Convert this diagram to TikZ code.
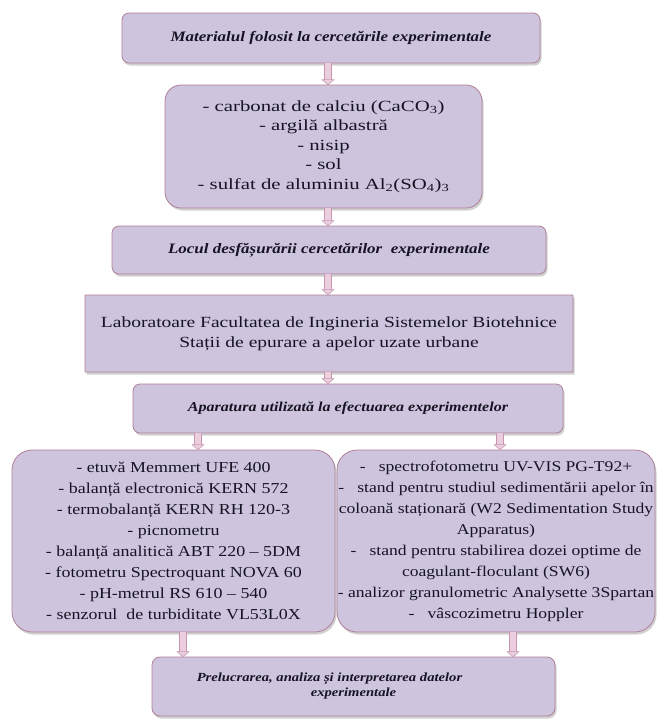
\documentclass[tikz,border=0pt]{standalone}
\usepackage{fontspec}
\setmainfont{Liberation Serif}[FakeStretch=1.18]
\newfontfamily\widerA{Liberation Serif}[FakeStretch=1.34]
\newfontfamily\widerB{Liberation Serif}[FakeStretch=1.26]
\usetikzlibrary{shadows}
\definecolor{boxfill}{RGB}{206,196,221}
\definecolor{boxedge}{RGB}{176,128,150}
\definecolor{arfill}{RGB}{236,206,222}
\definecolor{aredge}{RGB}{196,150,176}
\definecolor{txt}{RGB}{22,20,36}
\tikzset{
  box/.style={draw=boxedge, line width=0.8pt, fill=boxfill, rounded corners=#1,
    inner sep=0pt, align=center, text=txt,
    drop shadow={shadow xshift=1.5pt, shadow yshift=-2.5pt, opacity=0.3, fill=black!60},
    font=\fontsize{15.2}{20}\selectfont},
  box/.default=7pt,
  titlebox/.style={box=#1, font=\fontsize{14.4}{15}\selectfont\bfseries\itshape},
  titlebox/.default=7pt,
  arshaft/.style={draw=aredge, line width=0.6pt, double=arfill, double distance=6pt},
  arhead/.style={draw=aredge, line width=0.6pt, fill=arfill, line join=round}
}
\newcommand\blockarrow[2]{%
  \draw[arshaft] (#1) -- ([yshift=4pt]#2);
  \filldraw[arhead] ([xshift=-6pt,yshift=5pt]#2) -- (#2) -- ([xshift=6pt,yshift=5pt]#2) -- cycle;
}
\begin{document}
\begin{tikzpicture}[x=1pt,y=-1pt]
\useasboundingbox (0,0) rectangle (657,720);
\fill[white] (0,0) rectangle (657,720);

\node[titlebox, minimum width=418pt, minimum height=50pt] (b1) at (331,38)
  {Materialul folosit la cercetările experimentale};
\node[box=16pt, minimum width=317pt, minimum height=123pt, font=\widerA\fontsize{15.5}{19.6}\selectfont] (b2) at (323.5,146.5)
  {- carbonat de calciu (CaCO\textsubscript{3})\\
   - argilă albastră\\
   - nisip\\
   - sol\\
   - sulfat de aluminiu Al\textsubscript{2}(SO\textsubscript{4})\textsubscript{3}};
\node[titlebox, minimum width=434pt, minimum height=48pt] (b3) at (329,250)
  {Locul desfășurării cercetărilor\ \ experimentale};
\node[box=0.5pt, minimum width=488pt, minimum height=77pt, font=\widerB\fontsize{15.5}{20}\selectfont] (b4) at (329,333.5)
  {Laboratoare Facultatea de Ingineria Sistemelor Biotehnice\\
   Stații de epurare a apelor uzate urbane};
\node[titlebox, minimum width=430pt, minimum height=49pt, font=\fontsize{13.6}{15}\selectfont\bfseries\itshape] (b5) at (348,408.5)
  {Aparatura utilizată la efectuarea experimentelor};
\node[box=20pt, minimum width=323pt, minimum height=182pt, font=\fontsize{15.2}{21}\selectfont] (b6) at (173.5,541)
  {- etuvă Memmert UFE 400\\
   - balanță electronică KERN 572\\
   - termobalanță KERN RH 120-3\\
   - picnometru\\
   - balanță analitică ABT 220 -- 5DM\\
   - fotometru Spectroquant NOVA 60\\
   - pH-metrul RS 610 -- 540\\
   - senzorul\ \ de turbiditate VL53L0X};
\node[box=20pt, minimum width=318pt, minimum height=182pt, font=\fontsize{14.9}{21}\selectfont] (b7) at (496,541)
  {-\ \ \ spectrofotometru UV-VIS PG-T92+\\
   -\ \ \ stand pentru studiul sedimentării apelor în\\
   coloană staționară (W2 Sedimentation Study\\
   Apparatus)\\
   -\ \ \ stand pentru stabilirea dozei optime de\\
   coagulant-floculant (SW6)\\
   - analizor granulometric Analysette 3Spartan\\
   -\ \ \ vâscozimetru Hoppler};
\node[titlebox=8pt, minimum width=403pt, minimum height=59pt, font=\fontsize{12.4}{15}\selectfont\bfseries\itshape] (b8) at (353.5,686.5)
  {\hspace*{-48pt}Prelucrarea, analiza și interpretarea datelor\\experimentale};

\coordinate (xc) at (328,0);
\coordinate (xl5) at (198,0);
\coordinate (xr5) at (500,0);
\coordinate (xl6) at (183,0);
\coordinate (xr6) at (513,0);

\coordinate (e1) at (b2.north -| xc);
\coordinate (e2) at (b3.north -| xc);
\coordinate (e3) at (b4.north -| xc);
\coordinate (e4) at (b5.north -| xc);
\coordinate (e5l) at (b6.north -| xl5);
\coordinate (e5r) at (b7.north -| xr5);
\coordinate (e6l) at (b8.north -| xl6);
\coordinate (e6r) at (b8.north -| xr6);

\blockarrow{b1.south -| xc}{e1}
\blockarrow{b2.south -| xc}{e2}
\blockarrow{b3.south -| xc}{e3}
\blockarrow{b4.south -| xc}{e4}
\blockarrow{b5.south -| xl5}{e5l}
\blockarrow{b5.south -| xr5}{e5r}
\blockarrow{b6.south -| xl6}{e6l}
\blockarrow{b7.south -| xr6}{e6r}
\end{tikzpicture}
\end{document}
